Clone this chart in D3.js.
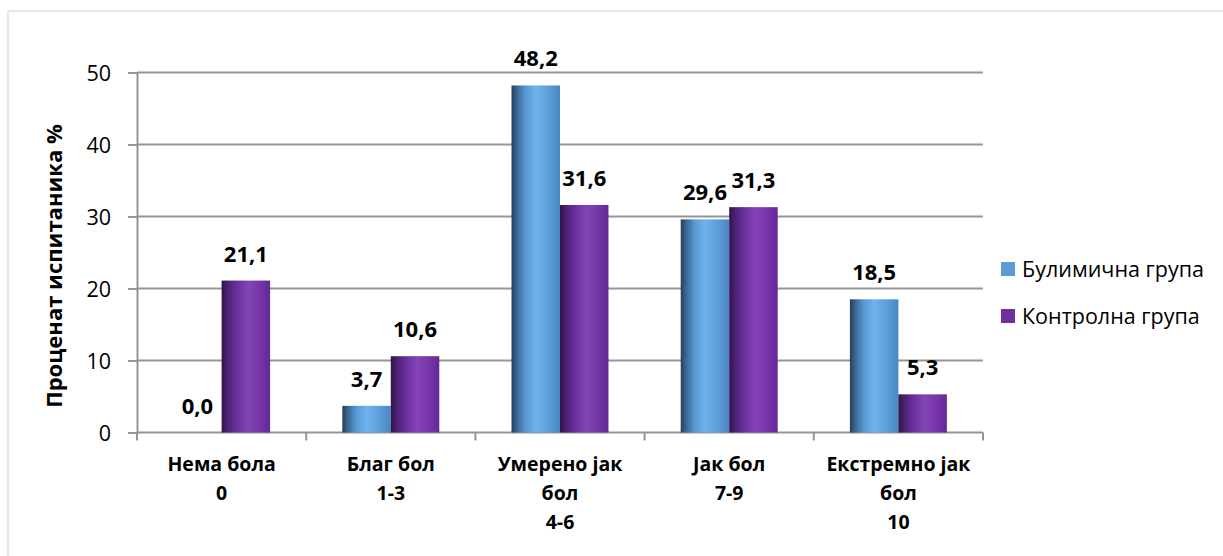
<!DOCTYPE html>
<html>
<head>
<meta charset="utf-8">
<script src="https://cdn.jsdelivr.net/npm/d3@7"></script>
<style>
  html, body { margin: 0; padding: 0; background: #fff; }
  svg { display: block; }
  text { font-family: "Open Sans", "Noto Sans", sans-serif; fill: #000; }
</style>
</head>
<body>
<svg id="chart" width="1223" height="556"></svg>
<script>
// Pain intensity categories (two-line / three-line labels)
const categories = ["Нема бола", "Благ бол", "Умерено јак бол", "Јак бол", "Екстремно јак бол"];
const categoryLines = [
  ["Нема бола", "0"],
  ["Благ бол", "1-3"],
  ["Умерено јак", "бол", "4-6"],
  ["Јак бол", "7-9"],
  ["Екстремно јак", "бол", "10"]
];
const seriesNames = ["Булимична група", "Контролна група"];
const bulimicValues = [0.0, 3.7, 48.2, 29.6, 18.5];
const controlValues = [21.1, 10.6, 31.6, 31.3, 5.3];
const yTicks = [0, 10, 20, 30, 40, 50];
const yTitle = "Проценат испитаника %";

const svg = d3.select("#chart");
const W = 1223, H = 556;
const plot = { left: 137, right: 983, top: 72.5, bottom: 432.5 };

// Outer chart frame
svg.append("rect")
  .attr("x", 8).attr("y", 11)
  .attr("width", W + 10).attr("height", H + 10)
  .attr("fill", "#fff").attr("stroke", "#e8e8e8").attr("stroke-width", 2);

// Bar gradients: shaded cylinder look
const defs = svg.append("defs");
const gradients = [
  { id: "gBlue", stops: [[0, "#243f5c"], [0.12, "#3a6a96"], [0.3, "#5a9bd6"], [0.5, "#6eb2ee"], [0.75, "#5d9fdc"], [1, "#4a86c2"]] },
  { id: "gPurple", stops: [[0, "#2f1446"], [0.12, "#4a2270"], [0.3, "#6a2e9c"], [0.55, "#8444b6"], [0.8, "#7535a8"], [1, "#642894"]] }
];
gradients.forEach(g => {
  const lg = defs.append("linearGradient").attr("id", g.id)
    .attr("x1", "0%").attr("x2", "100%").attr("y1", "0%").attr("y2", "0%");
  g.stops.forEach(s => lg.append("stop").attr("offset", s[0]).attr("stop-color", s[1]));
});
const legendColors = ["#5b9bd5", "#7030a0"];

const x = d3.scaleBand().domain(categories).range([plot.left, plot.right]).paddingInner(0).paddingOuter(0);
const xs = d3.scaleBand().domain(seriesNames).range([0, x.bandwidth()]).paddingInner(0).paddingOuter(0.745);
const y = d3.scaleLinear().domain([0, 50]).range([plot.bottom, plot.top]);

const gridColor = "#959595";

// Horizontal gridlines
svg.append("g").selectAll("line").data(yTicks.filter(t => t > 0)).join("line")
  .attr("x1", plot.left).attr("x2", plot.right)
  .attr("y1", d => y(d)).attr("y2", d => y(d))
  .attr("stroke", gridColor).attr("stroke-width", 2);

// Y axis
const yAxis = svg.append("g").attr("transform", `translate(${plot.left},0)`)
  .call(d3.axisLeft(y).tickValues(yTicks).tickSize(9).tickPadding(17).tickFormat(d3.format("d")));
yAxis.select(".domain").attr("stroke", gridColor).attr("stroke-width", 2);
yAxis.selectAll(".tick line").attr("stroke", gridColor).attr("stroke-width", 2);
yAxis.selectAll(".tick text").attr("font-size", 21.5).attr("font-family", "Open Sans").attr("fill", "#000").attr("dy", "0.35em");

// X axis baseline and separators
svg.append("line").attr("x1", plot.left).attr("x2", plot.right)
  .attr("y1", plot.bottom).attr("y2", plot.bottom)
  .attr("stroke", gridColor).attr("stroke-width", 2);
const sepX = categories.map(c => x(c)).concat([plot.right]);
svg.append("g").selectAll("line").data(sepX).join("line")
  .attr("x1", d => d).attr("x2", d => d)
  .attr("y1", plot.bottom).attr("y2", plot.bottom + 8)
  .attr("stroke", gridColor).attr("stroke-width", 2);

// Bars
const data = categories.map((c, i) => ({ cat: c, vals: [bulimicValues[i], controlValues[i]] }));
const groups = svg.append("g").selectAll("g").data(data).join("g")
  .attr("transform", d => `translate(${x(d.cat)},0)`);
groups.selectAll("rect").data(d => d.vals.map((v, j) => ({ v, s: seriesNames[j], j }))).join("rect")
  .attr("x", d => xs(d.s)).attr("width", xs.bandwidth())
  .attr("y", d => y(d.v)).attr("height", d => y(0) - y(d.v))
  .attr("fill", d => d.j === 0 ? "url(#gBlue)" : "url(#gPurple)");

// Value labels
groups.selectAll("text.val").data(d => d.vals.map((v, j) => ({ v, s: seriesNames[j] }))).join("text")
  .attr("class", "val")
  .attr("x", d => xs(d.s) + xs.bandwidth() / 2)
  .attr("y", d => y(d.v) - 19)
  .attr("text-anchor", "middle")
  .attr("font-size", 22).attr("font-weight", "bold")
  .text(d => d.v.toFixed(1).replace(".", ","));

// Category labels
const catG = svg.append("g").selectAll("text").data(categories).join("text")
  .attr("text-anchor", "middle")
  .attr("font-size", 19.5).attr("font-weight", "bold")
  .attr("transform", d => `translate(${x(d) + x.bandwidth() / 2},471)`);
catG.selectAll("tspan").data((d, i) => categoryLines[i]).join("tspan")
  .attr("x", 0).attr("y", (d, k) => k * 29)
  .text(d => d);

// Y axis title
svg.append("text")
  .attr("transform", "translate(62,266) rotate(-90)")
  .attr("text-anchor", "middle")
  .attr("font-size", 22).attr("font-weight", "bold")
  .text(yTitle);

// Legend
const legend = svg.append("g").selectAll("g").data(seriesNames).join("g")
  .attr("transform", (d, i) => `translate(1001,${262 + i * 47})`);
legend.append("rect").attr("width", 14).attr("height", 14)
  .attr("fill", (d, i) => legendColors[i]);
legend.append("text").attr("x", 21).attr("y", 14.5)
  .attr("font-size", 21.5)
  .text(d => d);
</script>
</body>
</html>
